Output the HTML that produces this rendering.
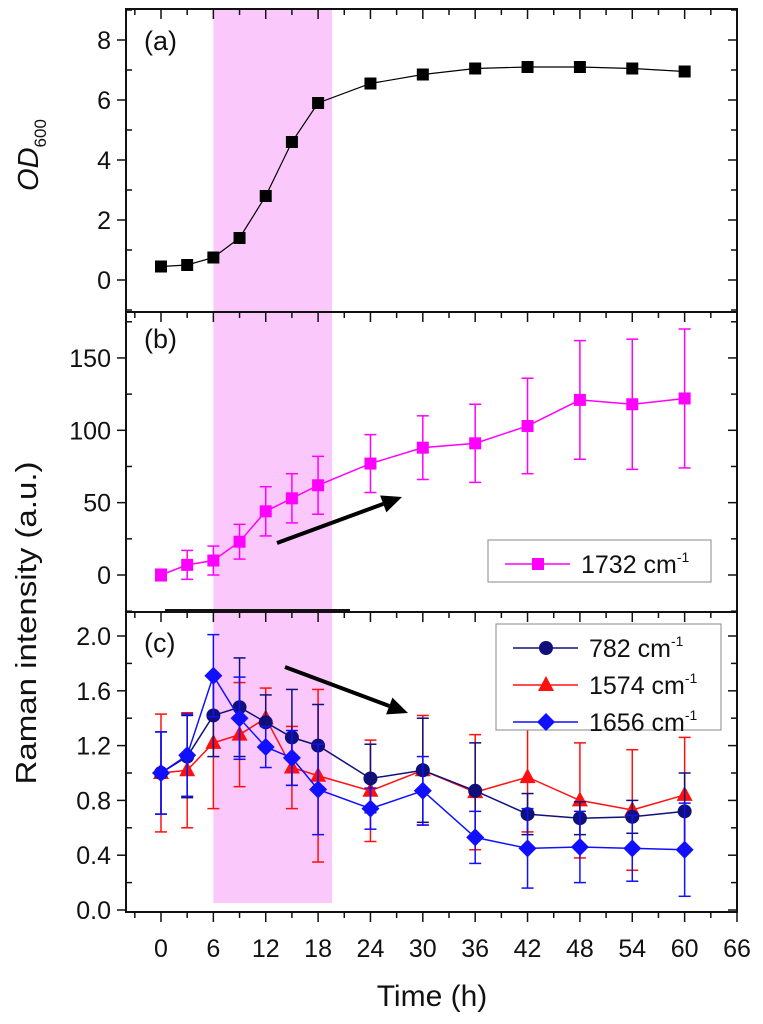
<!DOCTYPE html>
<html><head><meta charset="utf-8"><style>
body{margin:0;background:#fff}
svg{display:block;font-family:"Liberation Sans",Arial,sans-serif}
</style></head><body>
<svg id="c" width="763" height="1024" viewBox="0 0 763 1024" xmlns="http://www.w3.org/2000/svg"></svg>
<script>
const times = [0,3,6,9,12,15,18,24,30,36,42,48,54,60];
const od600 = [0.45,0.5,0.75,1.4,2.8,4.6,5.9,6.55,6.85,7.05,7.1,7.1,7.05,6.95];
const r1732 = [0,7,10,23,44,53,62,77,88,91,103,121,118,122];
const r1732Err = [4,10,10,12,17,17,20,20,22,27,33,41,45,48];
const r782 = [1.0,1.12,1.42,1.48,1.37,1.26,1.20,0.96,1.02,0.87,0.70,0.67,0.68,0.72];
const r782Err = [0.3,0.3,0.3,0.36,0.2,0.35,0.3,0.25,0.38,0.35,0.15,0.12,0.12,0.28];
const r1574 = [1.0,1.02,1.22,1.28,1.40,1.04,0.98,0.87,1.02,0.86,0.97,0.80,0.73,0.84];
const r1574Err = [0.43,0.42,0.48,0.38,0.22,0.3,0.63,0.37,0.4,0.42,0.4,0.42,0.44,0.42];
const r1656 = [1.0,1.13,1.71,1.40,1.19,1.11,0.88,0.74,0.87,0.53,0.45,0.46,0.45,0.44];
const r1656Err = [0.3,0.3,0.3,0.3,0.15,0.2,0.33,0.15,0.25,0.19,0.29,0.26,0.24,0.34];
const xTicks = [0,6,12,18,24,30,36,42,48,54,60,66];
const aTicks = [0,2,4,6,8];
const bTicks = [0,50,100,150];
const cTicks = [0.0,0.4,0.8,1.2,1.6,2.0];

const S = document.getElementById('c');
const NS = 'http://www.w3.org/2000/svg';
function el(tag, attrs, parent){const e=document.createElementNS(NS,tag);for(const k in attrs)e.setAttribute(k,attrs[k]);(parent||S).appendChild(e);return e;}
const L=126,R=737;
const X = t => 161 + (t)*(R-161)/66;
const Ya = v => 280 - 30*v;
const Yb = v => 575 - 1.447*v;
const Yc = v => 910 - 137*v;

const band = el('rect',{x:X(6),y:9,width:X(19.6)-X(6),height:903-9,fill:'#fbc8fb'});



const panels=[[9,312,'panel-a'],[312,612,'panel-b'],[612,912,'panel-c']];
panels.forEach(p=>{const r=el('rect',{x:L,y:p[0],width:R-L,height:p[1]-p[0],fill:'none',stroke:'#111','stroke-width':2});

});
el('line',{x1:165,y1:611,x2:350,y2:611,stroke:'#111','stroke-width':4});

for(let t=-3;t<=66;t+=3){const maj=t%6===0;
 panels.forEach((p,i)=>{
  el('line',{x1:X(t),x2:X(t),y1:p[0],y2:p[0]+(maj?10:6),stroke:'#111','stroke-width':1.5});
 });
 el('line',{x1:X(t),x2:X(t),y1:912,y2:912+(maj?10:6),stroke:'#111','stroke-width':1.5});
}
xTicks.forEach(t=>{const tx=el('text',{x:X(t),y:957,'font-size':25,'text-anchor':'middle',fill:'#111'});tx.textContent=t;

});
const xt=el('text',{x:432,y:1006,'font-size':30,'text-anchor':'middle',fill:'#111'});xt.textContent='Time (h)';



function yAxis(ticks,Y,minorStep,lo,hi,dec,name){
 for(let v=lo;v<=hi+1e-9;v+=minorStep){const maj=ticks.some(t=>Math.abs(t-v)<1e-6);
  el('line',{x1:L-(maj?9:0),x2:L+(maj?0:6),y1:Y(v),y2:Y(v),stroke:'#111','stroke-width':1.5});
  el('line',{x1:R-(maj?9:6),x2:R,y1:Y(v),y2:Y(v),stroke:'#111','stroke-width':1.5});
 }
 ticks.forEach(v=>{const t=el('text',{x:L-15,y:Y(v)+9,'font-size':25,'text-anchor':'end',fill:'#111'});t.textContent=dec?v.toFixed(1):v;
 
 });
}
yAxis(aTicks,Ya,1,-1,9,false,'panel-a-y-tick');
yAxis(bTicks,Yb,25,-25,175,false,'panel-b-y-tick');
yAxis(cTicks,Yc,0.2,0,2.1,true,'panel-c-y-tick');

const ya=el('text',{transform:'translate(38,155) rotate(-90)','font-size':29,'text-anchor':'middle',fill:'#111'});
ya.innerHTML='<tspan font-style="italic">OD</tspan><tspan font-size="17" dy="8">600</tspan>';


const yr=el('text',{transform:'translate(36,623) rotate(-90)','font-size':29,'text-anchor':'middle',fill:'#111',textLength:323,lengthAdjust:'spacingAndGlyphs'});
yr.textContent='Raman intensity (a.u.)';



[['(a)',144,50],['(b)',144,348],['(c)',144,652]].forEach(a=>{const t=el('text',{x:a[1],y:a[2],'font-size':27,fill:'#111'});t.textContent=a[0];

});

function marker(shape,x,y,color,name){let m;
 if(shape==='sq')m=el('rect',{x:x-6,y:y-6,width:12,height:12,fill:color});
 else if(shape==='ci')m=el('circle',{cx:x,cy:y,r:7,fill:color});
 else if(shape==='tr')m=el('polygon',{points:`${x},${y-9} ${x+8},${y+6} ${x-8},${y+6}`,fill:color});
 else m=el('polygon',{points:`${x},${y-9} ${x+9},${y} ${x},${y+9} ${x-9},${y}`,fill:color});
 
 
}
function series(vals,errs,Y,color,shape,name,lw){
 const pts=vals.map((v,i)=>X(times[i])+','+Y(v)).join(' ');
 el('polyline',{points:pts,fill:'none',stroke:color,'stroke-width':lw||1.5});
 if(errs) vals.forEach((v,i)=>{const x=X(times[i]),y1=Y(v-errs[i]),y2=Y(v+errs[i]);
  const g=el('g',{stroke:color,'stroke-width':1.5});
  
  
  el('line',{x1:x,x2:x,y1:y1,y2:y2},g);el('line',{x1:x-6,x2:x+6,y1:y1,y2:y1},g);el('line',{x1:x-6,x2:x+6,y1:y2,y2:y2},g);});
 vals.forEach((v,i)=>marker(shape,X(times[i]),Y(v),color,name+'-point'));
}
series(od600,null,Ya,'#000','sq','od600',1.2);
series(r1732,r1732Err,Yb,'#ff00ff','sq','r1732');
series(r1574,r1574Err,Yc,'#ff1010','tr','r1574');
series(r782,r782Err,Yc,'#10107a','ci','r782');
series(r1656,r1656Err,Yc,'#1010ff','di','r1656');

function arrow(x1,y1,x2,y2,name){const a=Math.atan2(y2-y1,x2-x1);const hx=x2-20*Math.cos(a),hy=y2-20*Math.sin(a);
 const g=el('g',{});
 
 
 el('line',{x1:x1,y1:y1,x2:hx,y2:hy,stroke:'#000','stroke-width':4},g);
 const px=-Math.sin(a)*9,py=Math.cos(a)*9;
 el('polygon',{points:`${x2},${y2} ${hx+px},${hy+py} ${hx-px},${hy-py}`,fill:'#000'},g);}
arrow(277,543,402,497,'increase-arrow');
arrow(285,667,408,713,'decrease-arrow');

function legend(x,y,w,h,items,name){const g=el('g',{});
 
 
 el('rect',{x:x,y:y,width:w,height:h,fill:'#fff',stroke:'#888','stroke-width':1},g);
 items.forEach((it,i)=>{const cy=y+24+i*37;
  el('line',{x1:x+17,x2:x+82,y1:cy,y2:cy,stroke:it[1],'stroke-width':1.5},g);
  marker(it[2],x+50,cy,it[1],'legend-marker');
  const t=el('text',{x:x+93,y:cy+9,'font-size':25,fill:'#111'},g);
  t.innerHTML=it[0]+' cm<tspan font-size="14" dy="-11">-1</tspan>';
  
  });}
legend(488,540,223,42,[['1732','#ff00ff','sq']],'legend-b');
legend(496,624,225,106,[['782','#10107a','ci'],['1574','#ff1010','tr'],['1656','#1010ff','di']],'legend-c');
</script>
</body></html>
